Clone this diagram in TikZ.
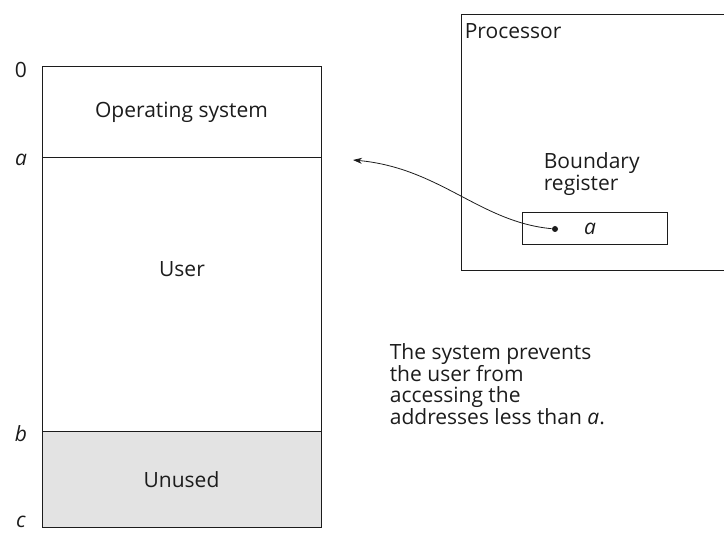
\documentclass[tikz,border=0pt]{standalone}
\usepackage{fontspec}
\setmainfont{Open Sans}
\usepackage{tikz}
\usetikzlibrary{arrows.meta, positioning}
\definecolor{Ink}       {HTML}{1C1C1C}
\definecolor{UnusedGrey}{HTML}{E3E3E3}

\begin{document}
\begin{tikzpicture}[x=1pt, y=-1pt, color=Ink, line width=1pt,
    font=\fontsize{21}{21.5}\selectfont,
    region/.style={draw, minimum width=279pt, inner sep=0pt, outer sep=0pt}]
  \clip (0,0) rectangle (724,534);
  % Memory: operating system, user, unused
  \node[region, minimum height=91pt, anchor=north west]
    (os) at (42,67) {Operating system};
  \node[region, minimum height=274pt, below=0pt of os]
    (user) {};
  \node (userlbl) at (182,269) {User};
  \node[region, minimum height=96pt, fill=UnusedGrey, below=0pt of user]
    (unused) {Unused};
  % Address labels
  \node (addr0) at (21,70) {0};
  \node (addra) at (21,160) {\textit{a}};
  \node (addrb) at (21,434) {\textit{b}};
  \node (addrc) at (21,522) {\textit{c}};
  % Processor with its boundary register
  \node[draw, anchor=north west, minimum width=290pt, minimum height=256pt,
        inner sep=0pt] (cpu) at (461,14) {};
  \node[anchor=west] (cpulbl) at (461,31) {Processor};
  \node[align=left, anchor=west] (reglbl) at (540,174) {Boundary\\register};
  \node[draw, anchor=north west, minimum width=145pt, minimum height=32pt,
        inner sep=0pt] (reg) at (522,212) {};
  \node[circle, fill, inner sep=0pt, minimum size=6pt] (dot) at (555,229) {};
  \node (rega) at (590,229) {\textit{a}};
  \coordinate (tip) at (353,160);
  \draw[-{Stealth[length=9pt, width=6pt]}, line width=0.8pt]
    (dot) .. controls (480,222) and (440,168) .. (tip);
  % Note
  \node[align=left, anchor=west] (note) at (386,384)
    {The system prevents\\the user from\\accessing the\\addresses less than \textit{a}.};
\end{tikzpicture}
\end{document}
